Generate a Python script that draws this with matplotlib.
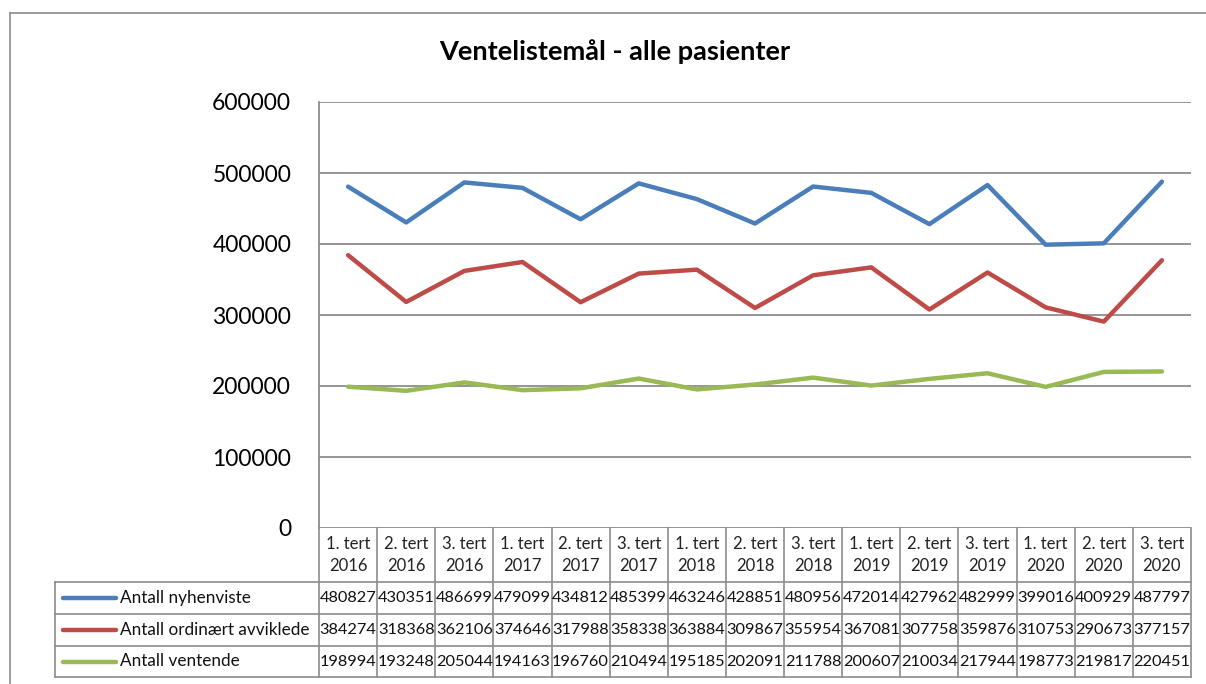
import matplotlib
matplotlib.use("Agg")
import matplotlib.pyplot as plt
from matplotlib.lines import Line2D
from matplotlib.transforms import blended_transform_factory

plt.rcParams['font.family'] = ['Lato', 'DejaVu Sans']

categories = ["1. tert\n2016", "2. tert\n2016", "3. tert\n2016",
              "1. tert\n2017", "2. tert\n2017", "3. tert\n2017",
              "1. tert\n2018", "2. tert\n2018", "3. tert\n2018",
              "1. tert\n2019", "2. tert\n2019", "3. tert\n2019",
              "1. tert\n2020", "2. tert\n2020", "3. tert\n2020"]
nyhenviste = [480827, 430351, 486699, 479099, 434812, 485399, 463246, 428851,
              480956, 472014, 427962, 482999, 399016, 400929, 487797]
avviklede = [384274, 318368, 362106, 374646, 317988, 358338, 363884, 309867,
             355954, 367081, 307758, 359876, 310753, 290673, 377157]
ventende = [198994, 193248, 205044, 194163, 196760, 210494, 195185, 202091,
            211788, 200607, 210034, 217944, 198773, 219817, 220451]
series_names = ["Antall nyhenviste", "Antall ordinært avviklede", "Antall ventende"]
series_values = [nyhenviste, avviklede, ventende]
series_colors = ["#4A7EBB", "#BE4B48", "#98B954"]
yticks = [0, 100000, 200000, 300000, 400000, 500000, 600000]
title = "Ventelistemål - alle pasienter"

W, H = 1206, 684
fig = plt.figure(figsize=(W / 100, H / 100), dpi=100)
gray = "#8C8C8C"

def fx(px):
    return px / W

def fy(py):
    return 1 - py / H

# outer frame
fig.add_artist(Line2D([fx(10), fx(10)], [fy(13), 0], color=gray, lw=1.2))
fig.add_artist(Line2D([fx(10), 1], [fy(13), fy(13)], color=gray, lw=1.2))

ax = fig.add_axes([fx(319), fy(528), fx(1191) - fx(319), fy(102) - fy(528)])
n = len(categories)
x = list(range(n))
for vals, col in zip(series_values, series_colors):
    ax.plot(x, vals, color=col, lw=3.2, solid_capstyle='round', solid_joinstyle='round', zorder=3)

ax.set_xlim(-0.5, n - 0.5)
ax.set_ylim(0, 600000)
ax.set_yticks(yticks)
ax.set_yticklabels([str(v) for v in yticks], fontsize=16.5)
ax.tick_params(axis='y', length=0, pad=20)
ax.set_xticks([])
for v in yticks:
    ax.axhline(v, color=gray, lw=1.3, zorder=1)
for s in ['top', 'right', 'bottom']:
    ax.spines[s].set_visible(False)
ax.spines['left'].set_color(gray)
ax.spines['left'].set_linewidth(1.3)

fig.text(fx(615), fy(52), title, ha='center', va='center', fontsize=19.5, fontweight='bold')

# data table
tr = blended_transform_factory(ax.transData, fig.transFigure)
y_head_top, y_head_bot = fy(528), fy(582)
row_edges = [fy(582), fy(614), fy(646), fy(677)]
xl_leg = ax.transData.inverted().transform((55, 0))[0]

def tline(xs, ys):
    ax.add_line(Line2D(xs, ys, transform=tr, color=gray, lw=1.2, clip_on=False))

# verticals
for i in range(n + 1):
    tline([i - 0.5, i - 0.5], [y_head_top, row_edges[-1]])
# horizontals
for ye in row_edges:
    tline([xl_leg, n - 0.5], [ye, ye])
tline([xl_leg, xl_leg], [row_edges[0], row_edges[-1]])

for i, c in enumerate(categories):
    ax.text(i, (y_head_top + y_head_bot) / 2, c, transform=tr, ha='center', va='center',
            fontsize=12, linespacing=1.45, color='#222222')

for r, (name, vals, col) in enumerate(zip(series_names, series_values, series_colors)):
    yc = (row_edges[r] + row_edges[r + 1]) / 2
    fig.add_artist(Line2D([fx(63), fx(116)], [yc, yc], color=col, lw=3.2, solid_capstyle='round'))
    fig.text(fx(120), yc, name, ha='left', va='center', fontsize=12.3, color='#111111')
    for i, v in enumerate(vals):
        ax.text(i, yc, str(v), transform=tr, ha='center', va='center', fontsize=11.8, color='#111111')

fig.savefig("out.png", dpi=100)
